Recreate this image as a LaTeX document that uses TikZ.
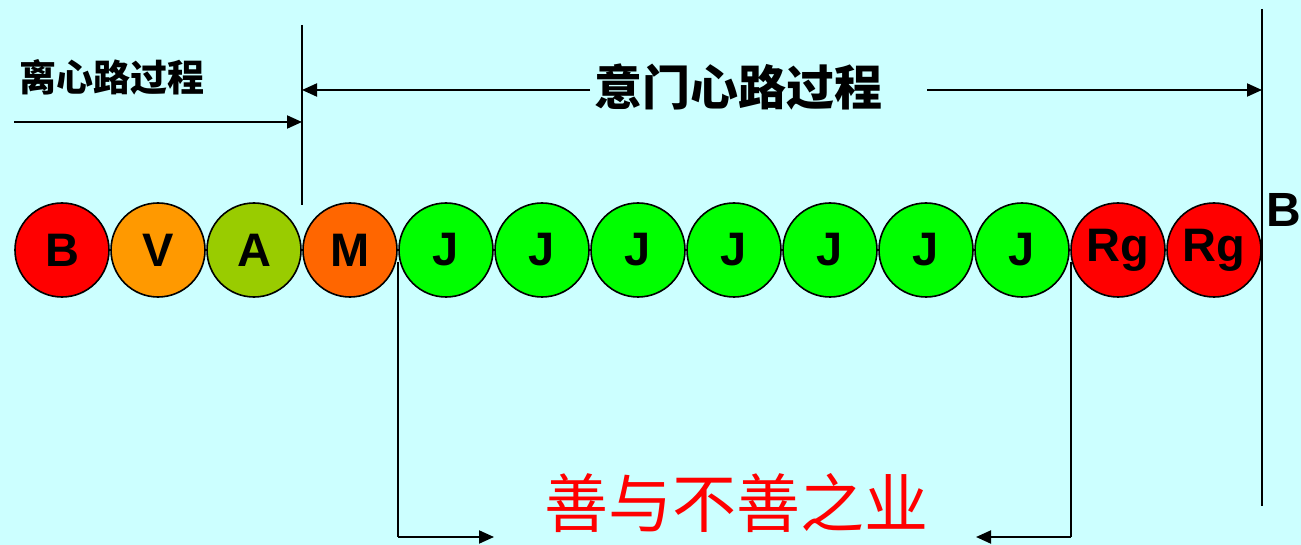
\documentclass[tikz,border=0pt]{standalone}
\usepackage{fontspec}
\setmainfont{Liberation Sans}
\newfontfamily\cjk{Noto Sans CJK SC}
\usetikzlibrary{arrows.meta}
\definecolor{bgc}{HTML}{CCFFFF}
\definecolor{cB}{HTML}{FF0000}
\definecolor{cV}{HTML}{FF9900}
\definecolor{cA}{HTML}{99CC00}
\definecolor{cM}{HTML}{FF6600}
\definecolor{cJ}{HTML}{00FF00}
\tikzset{
  ball/.style={circle, draw=black, line width=1.6pt, minimum size=94pt, inner sep=0pt,
    font=\fontsize{47}{47}\selectfont\bfseries},
  ln/.style={line width=2pt, draw=black},
  arr/.style={ln, -{Triangle[length=15pt,width=13pt]}},
}
\begin{document}
\begin{tikzpicture}[x=1pt,y=-1pt]
\fill[bgc] (0,0) rectangle (1301,545);
\useasboundingbox (0,0) rectangle (1301,545);
% vertical guide lines
\coordinate (v1t) at (302,25);
\coordinate (v1b) at (302,205);
\coordinate (v2t) at (1262,9);
\coordinate (v2b) at (1262,506);
\draw[ln] (v1t) -- (v1b);
\draw[ln] (v2t) -- (v2b);
% balls
\foreach \i/\c/\t in {1/cB/B,2/cV/V,3/cA/A,4/cM/M,5/cJ/J,6/cJ/J,7/cJ/J,8/cJ/J,9/cJ/J,10/cJ/J,11/cJ/J,12/cB/Rg,13/cB/Rg}{
  \node[ball, fill=\c] (c\i) at ({62+96*(\i-1)},250) {\t};
}
% titles
\node[font=\cjk\fontsize{37}{37}\selectfont\bfseries, anchor=west, inner sep=0pt] (t1) at (19,77) {离心路过程};
\node[font=\cjk\fontsize{48}{48}\selectfont\bfseries, inner sep=0pt] (t2) at (738,87) {意门心路过程};
\node[font=\fontsize{48}{48}\selectfont\bfseries, inner sep=0pt] (rb) at (1284,210) {B};
\node[font=\cjk\fontsize{64}{64}\selectfont, text=red, inner sep=0pt] (t3) at (736,503) {善与不善之业};
% arrows
\coordinate (a1s) at (14,122);
\coordinate (a1e) at (302,122);
\draw[arr] (a1s) -- (a1e);
\coordinate (a2l) at (302,90);
\coordinate (a2ls) at (590,90);
\coordinate (a2rs) at (927,90);
\coordinate (a2r) at (1262,90);
\draw[arr] (a2ls) -- (a2l);
\draw[arr] (a2rs) -- (a2r);
% bottom brackets
\coordinate (b1t) at (398,262);
\coordinate (b1c) at (398,537);
\coordinate (b1e) at (494,537);
\draw[ln] (b1t) -- (b1c);
\draw[arr] (b1c) -- (b1e);
\coordinate (b2t) at (1071,262);
\coordinate (b2c) at (1071,537);
\coordinate (b2e) at (976,537);
\draw[ln] (b2t) -- (b2c);
\draw[arr] (b2c) -- (b2e);
\end{tikzpicture}
\end{document}
